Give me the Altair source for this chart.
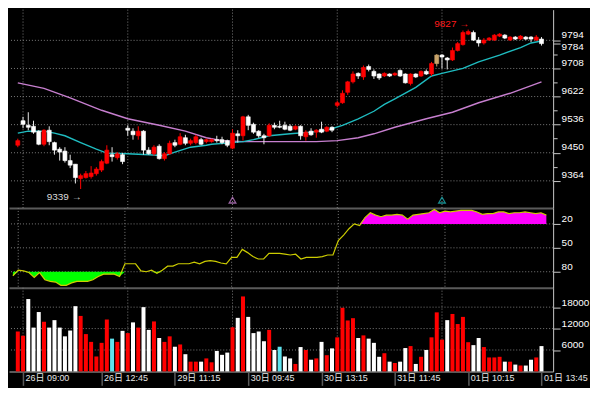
import json
import altair as alt
import pandas as pd

# ---------------- data ----------------
opens = [9473, 9548, 9534, 9531, 9516, 9476, 9519, 9481, 9461, 9455,
         9426, 9415, 9371, 9374, 9377, 9386, 9397, 9418, 9444, 9435,
         9444, 9525, 9516, 9502, 9516, 9458, 9447, 9470, 9432, 9447,
         9481, 9476, 9496, 9479, 9481, 9490, 9484, 9484, 9490, 9490,
         9487, 9464, 9508, 9502, 9560, 9537, 9516, 9502, 9502, 9534,
         9531, 9534, 9531, 9522, 9531, 9499, 9516, 9513, 9522, 9516,
         9528, 9595, 9603, 9635, 9667, 9693, 9682, 9714, 9699, 9691,
         9685, 9691, 9688, 9702, 9691, 9662, 9691, 9685, 9699, 9691,
         9749, 9749, 9740, 9734, 9763, 9781, 9813, 9818, 9795, 9786,
         9795, 9795, 9807, 9810, 9795, 9804, 9798, 9804, 9804, 9795,
         9798]
highs = [9493, 9560, 9574, 9548, 9519, 9522, 9531, 9484, 9467, 9467,
         9444, 9415, 9386, 9394, 9409, 9406, 9429, 9473, 9467, 9452,
         9449, 9534, 9525, 9531, 9519, 9467, 9473, 9476, 9452, 9487,
         9490, 9510, 9505, 9493, 9505, 9496, 9493, 9493, 9502, 9499,
         9490, 9522, 9519, 9563, 9566, 9542, 9519, 9508, 9540, 9542,
         9548, 9545, 9537, 9534, 9534, 9519, 9525, 9522, 9545, 9531,
         9531, 9609, 9641, 9670, 9699, 9696, 9717, 9720, 9705, 9693,
         9696, 9693, 9696, 9705, 9693, 9693, 9693, 9702, 9705, 9728,
         9752, 9752, 9743, 9772, 9789, 9824, 9827, 9824, 9804, 9801,
         9804, 9813, 9816, 9813, 9807, 9807, 9810, 9807, 9807, 9810,
         9804]
lows = [9467, 9525, 9519, 9508, 9473, 9470, 9473, 9444, 9426, 9420,
        9403, 9356, 9339, 9371, 9371, 9380, 9391, 9415, 9423, 9429,
        9415, 9502, 9490, 9490, 9444, 9444, 9441, 9429, 9426, 9444,
        9467, 9473, 9473, 9473, 9476, 9473, 9479, 9481, 9481, 9476,
        9467, 9461, 9481, 9487, 9519, 9508, 9496, 9476, 9499, 9522,
        9525, 9519, 9516, 9519, 9490, 9487, 9502, 9496, 9510, 9513,
        9513, 9589, 9600, 9627, 9662, 9676, 9673, 9699, 9676, 9673,
        9682, 9682, 9685, 9682, 9662, 9656, 9679, 9682, 9688, 9685,
        9714, 9708, 9705, 9731, 9760, 9778, 9810, 9792, 9775, 9781,
        9792, 9792, 9804, 9798, 9792, 9795, 9795, 9795, 9789, 9792,
        9778]
closes = [9487, 9537, 9528, 9513, 9476, 9519, 9484, 9458, 9452, 9426,
          9412, 9374, 9380, 9386, 9388, 9400, 9423, 9458, 9438, 9447,
          9423, 9519, 9505, 9516, 9458, 9447, 9467, 9432, 9447, 9479,
          9473, 9499, 9479, 9487, 9499, 9476, 9490, 9490, 9487, 9481,
          9473, 9510, 9502, 9560, 9534, 9513, 9502, 9496, 9534, 9528,
          9528, 9522, 9519, 9531, 9502, 9513, 9505, 9519, 9513, 9528,
          9519, 9603, 9632, 9667, 9691, 9685, 9711, 9705, 9685, 9679,
          9693, 9685, 9693, 9685, 9664, 9691, 9682, 9699, 9691, 9723,
          9723, 9743, 9734, 9763, 9784, 9818, 9821, 9795, 9786, 9795,
          9801, 9810, 9813, 9801, 9804, 9798, 9807, 9798, 9798, 9804,
          9784]
highlight_bars = [80]

ma_short_bars = [0, 2, 5, 7, 9, 12, 15, 17, 21, 25, 28, 30, 33, 36, 37, 41, 43, 45,
                 48, 52, 56, 59, 62, 65, 68, 70, 72, 76, 79, 81, 85, 88, 92, 96, 98, 100]
ma_short_vals = [9510, 9516, 9516, 9510, 9502, 9481, 9461, 9449, 9447, 9444, 9441, 9452,
                 9467, 9473, 9476, 9481, 9484, 9490, 9502, 9508, 9513, 9519, 9534, 9554,
                 9577, 9598, 9615, 9650, 9685, 9693, 9708, 9728, 9749, 9772, 9786, 9792]
ma_long_bars = [0, 5, 10, 16, 21, 27, 32, 36, 39, 43, 50, 57, 61, 65, 68, 72, 78, 83, 88, 94, 100]
ma_long_vals = [9664, 9647, 9618, 9580, 9554, 9534, 9516, 9496, 9487, 9484, 9484, 9484,
                9487, 9496, 9508, 9528, 9554, 9574, 9603, 9632, 9667]

osc_values = [85, 78, 79, 81, 87, 81, 90, 92, 93, 97,
              97, 94, 92, 92, 92, 90, 86, 83, 83, 83,
              86, 70, 70, 70, 79, 80, 78, 82, 78, 73,
              73, 70, 70, 70, 68, 70, 67, 66, 67, 69,
              70, 62, 62, 52, 56, 61, 64, 64, 57, 57,
              57, 58, 59, 58, 64, 62, 62, 62, 61, 59,
              59, 41, 34, 26, 20, 22, 12, 6, 9, 11,
              9, 9, 8, 9, 14, 9, 8, 7, 6, 2,
              6, 4, 5, 4, 3, 3, 3, 5, 8, 7,
              7, 5, 5, 7, 6, 6, 5, 6, 7, 6,
              9]

volumes = [11180, 10000, 20270, 12270, 16630, 13910, 12270, 14360, 12270, 9820,
           11450, 18270, 15540, 10450, 8270, 4180, 8000, 14540, 9180, 8270,
           11360, 10730, 13730, 12270, 18000, 11630, 14000, 9360, 8270, 9820,
           6910, 7550, 4820, 2730, 2730, 2730, 3640, 2550, 5730, 4640,
           5270, 12360, 15000, 21000, 15270, 10730, 11180, 8450, 11630, 6000,
           6910, 4180, 3640, 2090, 6820, 6000, 3270, 3640, 8270, 4540,
           6450, 9540, 17820, 14270, 14910, 9360, 10090, 9180, 8000, 4090,
           5090, 2730, 2360, 2730, 6540, 7090, 2090, 4090, 6000, 9540,
           16540, 8910, 14360, 16090, 13270, 15270, 8180, 7360, 9360, 6820,
           3910, 3910, 4090, 2730, 2730, 1910, 1640, 1640, 3270, 3910,
           7090]
vol_color_rows = ["rrwwwrwwww", "wwrrrrrrcr", "wrwrwwrwrr", "wrwrrwrrww", "wrwrwwwwrw",
                  "cwwrwrwrwr", "wrrrrwrwww", "rwrwwrwrwr", "rrwrrrrwwr", "rrrwrwrwwr", "w"]

day_start_bars = [1, 21, 41, 61, 81]
x_tick_bars = [1, 16, 30, 44, 58, 72, 86, 100]
x_tick_labels = ["26日 09:00", "26日 12:45", "29日 11:15", "30日 09:45",
                 "30日 13:15", "31日 11:45", "01日 10:15", "01日 13:45"]
price_ticks = [9364, 9450, 9536, 9622, 9708, 9794]
price_minor = [9407, 9493, 9579, 9665, 9751]
last_price = 9784
osc_ticks = [20, 50, 80]
vol_ticks = [6000, 12000, 18000]
marker_bars = [41, 81]
marker_level = [9305, 9305]
marker_colors = ["#d58be0", "#22c3c8"]
note_bars = [12, 86]
note_prices = [9339, 9827]
note_texts = ["9339 →", "9827 →"]

# ---------------- styling ----------------
FONT = "Liberation Sans, 'Noto Sans CJK JP', sans-serif"
RED, WHITE, TAN, CYANV = "#ff0000", "#ffffff", "#c9a46a", "#5fe3ee"
GRID = "#7a7a7a"
SEP = "#5a5a5a"
W, H1, H2, H3 = 546, 199, 80, 84

n = len(opens)
bars = list(range(n))


def ccol(k):
    if k in highlight_bars:
        return TAN
    return RED if closes[k] > opens[k] else WHITE


candles = pd.DataFrame({"k": bars, "open": opens, "high": highs, "low": lows, "close": closes})
candles["color"] = [ccol(k) for k in bars]
candles["wick"] = [c if c != WHITE else "#e6e6e6" for c in candles["color"]]

vmap = {"r": RED, "w": WHITE, "c": CYANV}
vol_df = pd.DataFrame({"k": bars, "vol": volumes,
                       "color": [vmap[c] for c in "".join(vol_color_rows)]})

osc_df = pd.DataFrame({"k": bars, "v": osc_values})
osc_df["hi"] = osc_df["v"].clip(upper=20)
osc_df["lo"] = osc_df["v"].clip(lower=80)
osc_df["l20"] = 20
osc_df["l80"] = 80

ma_s = pd.DataFrame({"k": ma_short_bars, "p": ma_short_vals})
ma_l = pd.DataFrame({"k": ma_long_bars, "p": ma_long_vals})
days = pd.DataFrame({"k": day_start_bars})
marks = pd.DataFrame({"k": marker_bars, "p": marker_level, "c": marker_colors})
notes = pd.DataFrame({"k": note_bars, "p": note_prices, "t": note_texts,
                      "c": ["#dcdcdc", "#ff1a1a"]})

xs = alt.Scale(domain=[-0.73, 101.27], nice=False, zero=False)
ps = alt.Scale(domain=[9281, 9888], nice=False, zero=False)
oscs = alt.Scale(domain=[0, 100], reverse=True, nice=False, zero=False)
vs = alt.Scale(domain=[0, 23450], nice=False, zero=False)


def X(f="k:Q", axis=alt.Undefined):
    return alt.X(f, scale=xs, axis=axis)


def PY(f):
    return alt.Y(f, scale=ps)


common_y = dict(orient="right", grid=False, title=None, labelColor="#ffffff", labelFontSize=10,
                labelFont=FONT, labelAlign="left", labelPadding=1, labelFlush=False,
                labelOverlap=False, domainColor="#c8c8c8", tickColor="#c8c8c8", format="d",
                tickCount=200)
sep_axis = alt.Axis(orient="bottom", labels=False, ticks=False, grid=False, title=None,
                    domainColor=SEP, domainWidth=2)

minor_test = "indexof(%s, datum.value) >= 0" % json.dumps(price_minor)
last_test = f"datum.value == {last_price}"
price_axis = alt.Axis(values=price_ticks + price_minor + [last_price],
                      labelExpr=f"{minor_test} ? '' : datum.label",
                      labelBaseline={"condition": {"test": last_test, "value": "top"},
                                     "value": "alphabetic"},
                      labelOffset={"condition": {"test": last_test, "value": -2}, "value": -3},
                      tickSize={"condition": {"test": minor_test, "value": 4}, "value": 7},
                      **common_y)
osc_axis = alt.Axis(values=osc_ticks, labelBaseline="alphabetic", labelOffset=-2, tickSize=7,
                    **common_y)
vol_axis = alt.Axis(values=vol_ticks, labelBaseline="alphabetic", labelOffset=-2, tickSize=7,
                    **common_y)

lab_expr = "%s[indexof(%s, datum.value)]" % (json.dumps(x_tick_labels, ensure_ascii=False),
                                             json.dumps(x_tick_bars))
bottom_axis = alt.Axis(orient="bottom", values=x_tick_bars, labelExpr=lab_expr, tickSize=14,
                       tickCount=200, tickColor=SEP, tickWidth=1.5, labelAlign="left",
                       labelBaseline="top", labelPadding=-12, labelOffset=2, labelColor="#e6e6e6",
                       labelFontSize=9, labelFont=FONT, labelFlush=False, labelOverlap=False,
                       domainColor=SEP, domainWidth=2, grid=False, title=None)

grid_rule = dict(color=GRID, strokeDash=[1, 2], strokeWidth=1)

# ---------------- price panel ----------------
p_hgrid = alt.Chart(pd.DataFrame({"p": price_ticks})).mark_rule(**grid_rule).encode(
    y=alt.Y("p:Q", scale=ps, axis=price_axis))
p_vgrid = alt.Chart(days).mark_rule(**grid_rule).encode(x=X(axis=sep_axis))
p_mal = alt.Chart(ma_l).mark_line(color="#c77fcf", strokeWidth=1.4).encode(x=X(), y=PY("p:Q"))
p_mas = alt.Chart(ma_s).mark_line(color="#1fbcc0", strokeWidth=1.4).encode(x=X(), y=PY("p:Q"))
p_wick = alt.Chart(candles).mark_rule(strokeWidth=1).encode(
    x=X(), y=PY("low:Q"), y2="high:Q", color=alt.Color("wick:N", scale=None))
p_body = alt.Chart(candles).mark_bar(size=4, strokeWidth=0.6).encode(
    x=X(), y=PY("open:Q"), y2="close:Q",
    color=alt.Color("color:N", scale=None), stroke=alt.Color("color:N", scale=None))
p_mark = alt.Chart(marks).mark_point(shape="triangle-up", filled=False, size=45, strokeWidth=1.3).encode(
    x=X(), y=PY("p:Q"), color=alt.Color("c:N", scale=None))
p_note_low = alt.Chart(notes.iloc[[0]]).mark_text(align="right", baseline="middle", dy=8, dx=1,
                                                   fontSize=10, font=FONT).encode(
    x=X(), y=PY("p:Q"), text="t:N", color=alt.Color("c:N", scale=None))
p_note_high = alt.Chart(notes.iloc[[1]]).mark_text(align="right", baseline="middle", dy=-6, dx=1,
                                                    fontSize=10, font=FONT).encode(
    x=X(), y=PY("p:Q"), text="t:N", color=alt.Color("c:N", scale=None))

price_panel = alt.layer(p_hgrid, p_vgrid, p_mal, p_mas, p_wick, p_body, p_mark,
                        p_note_low, p_note_high).properties(width=W, height=H1)

# ---------------- oscillator panel ----------------
o_hgrid = alt.Chart(pd.DataFrame({"v": osc_ticks})).mark_rule(**grid_rule).encode(
    y=alt.Y("v:Q", scale=oscs, axis=osc_axis))
o_vgrid = alt.Chart(days).mark_rule(**grid_rule).encode(x=X(axis=sep_axis))
o_mag = alt.Chart(osc_df).mark_area(color="#ff00ff", opacity=1).encode(
    x=X(), y=alt.Y("hi:Q", scale=oscs), y2="l20:Q")
o_grn = alt.Chart(osc_df).mark_area(color="#00ff00", opacity=1).encode(
    x=X(), y=alt.Y("lo:Q", scale=oscs), y2="l80:Q")
o_line = alt.Chart(osc_df).mark_line(color="#cccc00", strokeWidth=1.2).encode(
    x=X(), y=alt.Y("v:Q", scale=oscs))
osc_panel = alt.layer(o_hgrid, o_vgrid, o_mag, o_grn, o_line).properties(width=W, height=H2)

# ---------------- volume panel ----------------
v_hgrid = alt.Chart(pd.DataFrame({"vol": vol_ticks})).mark_rule(**grid_rule).encode(
    y=alt.Y("vol:Q", scale=vs, axis=vol_axis))
v_vgrid = alt.Chart(days).mark_rule(**grid_rule).encode(x=X(axis=bottom_axis))
v_bars = alt.Chart(vol_df).mark_bar(size=4).encode(
    x=X(), y=alt.Y("vol:Q", scale=vs), color=alt.Color("color:N", scale=None))
vol_panel = alt.layer(v_hgrid, v_vgrid, v_bars).properties(width=W, height=H3)

chart = alt.vconcat(price_panel, osc_panel, vol_panel, spacing=0, bounds="flush").properties(
    padding=0, background="#000000"
).configure_view(stroke="transparent")

chart.save("out.html", embed_options={"renderer": "svg", "actions": False})
